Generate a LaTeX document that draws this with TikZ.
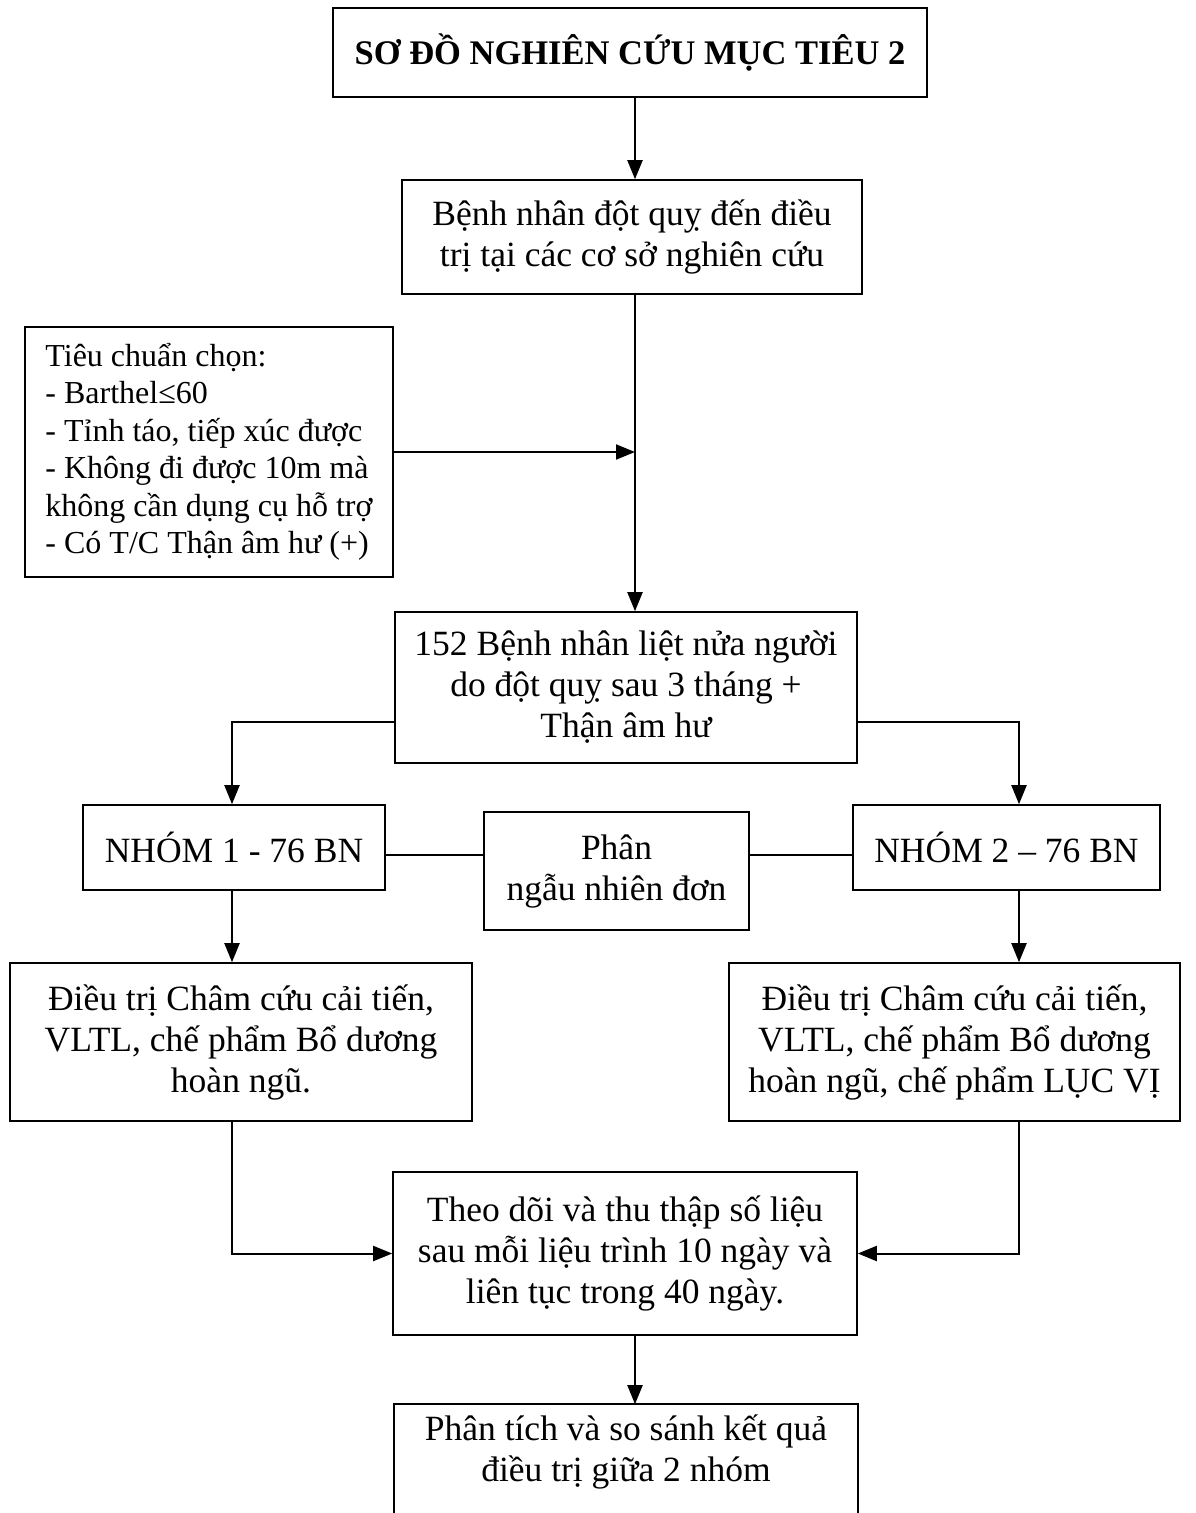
\documentclass[tikz,border=0pt]{standalone}
\usepackage{fontspec}
\setmainfont{Liberation Serif}
\usepackage{tikz}
\usetikzlibrary{arrows.meta,calc,positioning}
\tikzset{
  flow box/.style={draw,line width=1.6pt,align=center,inner sep=0pt,font=\fontsize{35.5}{41}\selectfont},
  crit box/.style={flow box,align=left,font=\fontsize{32}{37.5}\selectfont},
  flow arrow/.style={-{Triangle[length=19pt,width=15pt]},line width=2pt},
  flow line/.style={line width=1.6pt},
}
\begin{document}
\begin{tikzpicture}[x=1pt,y=-1pt]
  \useasboundingbox (0,0) rectangle (1195,1513);
  \clip (0,0) rectangle (1195,1513);
  \coordinate (spine) at (635,0);
  \coordinate (leftx) at (232,0);
  \coordinate (rightx) at (1019,0);
  \coordinate (split) at (0,722);
  \coordinate (mid) at (0,855);
  \node[flow box,minimum width=594pt,minimum height=89pt,font=\fontsize{34.5}{41}\selectfont] (title) at (630,52.5) {\textbf{SƠ ĐỒ NGHIÊN CỨU MỤC TIÊU 2}};
  \node[flow box,minimum width=460pt,minimum height=114pt] (admit) at (632,237) {Bệnh nhân đột quỵ đến điều\\trị tại các cơ sở nghiên cứu};
  \node[crit box,minimum width=368pt,minimum height=250pt] (crit) at (209,452) {Tiêu chuẩn chọn:\\- Barthel≤60\\- Tỉnh táo, tiếp xúc được\\- Không đi được 10m mà\\không cần dụng cụ hỗ trợ\\- Có T/C Thận âm hư (+)};
  \node[flow box,minimum width=462pt,minimum height=151pt] (patients) at (626,687.5) {152 Bệnh nhân liệt nửa người\\do đột quỵ sau 3 tháng +\\Thận âm hư};
  \node[flow box,minimum width=302pt,minimum height=85pt] (g1) at (234,847.5) {NHÓM 1 - 76 BN};
  \node[flow box,minimum width=265pt,minimum height=118pt] (rand) at (616.5,871) {Phân\\ngẫu nhiên đơn};
  \node[flow box,minimum width=307pt,minimum height=85pt] (g2) at (1006.5,847.5) {NHÓM 2 – 76 BN};
  \node[flow box,minimum width=462pt,minimum height=158pt] (t1) at (241,1042) {Điều trị Châm cứu cải tiến,\\VLTL, chế phẩm Bổ dương\\hoàn ngũ.};
  \node[flow box,minimum width=451pt,minimum height=158pt] (t2) at (954.5,1042) {Điều trị Châm cứu cải tiến,\\VLTL, chế phẩm Bổ dương\\hoàn ngũ, chế phẩm LỤC VỊ};
  \node[flow box,minimum width=464pt,minimum height=163pt] (follow) at (625,1253.5) {Theo dõi và thu thập số liệu\\sau mỗi liệu trình 10 ngày và\\liên tục trong 40 ngày.};
  \node[flow box,draw=none,minimum width=462pt,minimum height=94pt] (final) at (626,1452) {Phân tích và so sánh kết quả\\điều trị giữa 2 nhóm};
  \draw[flow line] ([yshift=-40pt]final.south west) -- (final.north west) -- (final.north east) -- ([yshift=-40pt]final.south east);
  \draw[flow arrow] (title.south -| spine) -- (admit.north -| spine);
  \draw[flow arrow] (admit.south -| spine) -- (patients.north -| spine);
  \draw[flow arrow] (crit.east) -- (crit.east -| spine);
  \draw[flow arrow] (patients.west |- split) -| (g1.north -| leftx);
  \draw[flow arrow] (patients.east |- split) -| (g2.north -| rightx);
  \draw[flow line] (g1.east |- mid) -- (rand.west |- mid);
  \draw[flow line] (rand.east |- mid) -- (g2.west |- mid);
  \draw[flow arrow] (g1.south -| leftx) -- (t1.north -| leftx);
  \draw[flow arrow] (g2.south -| rightx) -- (t2.north -| rightx);
  \draw[flow arrow] (t1.south -| leftx) |- (follow.west);
  \draw[flow arrow] (t2.south -| rightx) |- (follow.east);
  \draw[flow arrow] (follow.south -| spine) -- (final.north -| spine);
\end{tikzpicture}
\end{document}
